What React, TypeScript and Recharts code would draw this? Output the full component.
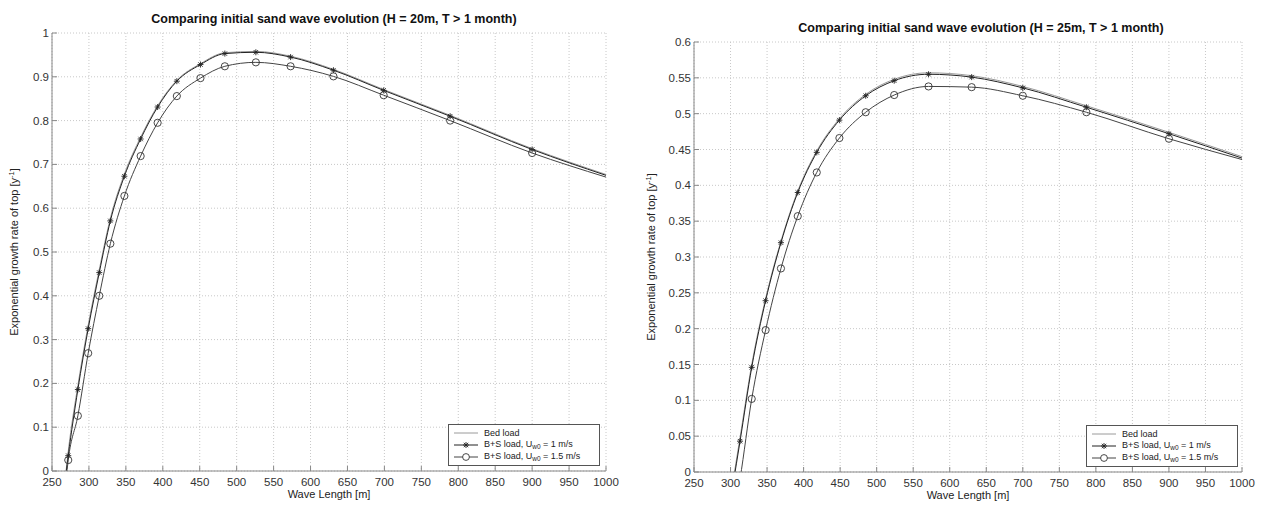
import { LineChart, Line, XAxis, YAxis, CartesianGrid, Legend } from "recharts"

// H = 20m
const lengths20 = [269, 272, 285, 299, 314, 329, 348, 370, 393, 419, 451, 484, 526, 573, 631, 699, 789, 900, 1000]
const bedLoad20 = [0.0, 0.045, 0.195, 0.333, 0.46, 0.577, 0.678, 0.762, 0.834, 0.892, 0.93, 0.955, 0.958, 0.947, 0.917, 0.871, 0.812, 0.736, 0.677]
const bs1_20 = [-0.005, 0.035, 0.186, 0.325, 0.453, 0.571, 0.673, 0.758, 0.831, 0.89, 0.928, 0.953, 0.956, 0.945, 0.915, 0.869, 0.81, 0.734, 0.675]
const bs15_20 = [-0.02, 0.025, 0.126, 0.269, 0.4, 0.519, 0.628, 0.719, 0.795, 0.856, 0.897, 0.924, 0.933, 0.924, 0.901, 0.858, 0.8, 0.726, 0.671]

// H = 25m
const lengths25 = [303, 313, 329, 348, 369, 392, 418, 449, 485, 524, 571, 630, 700, 787, 900, 1000]
const bedLoad25 = [-0.015, 0.048, 0.15, 0.242, 0.322, 0.392, 0.448, 0.493, 0.527, 0.548, 0.557, 0.553, 0.538, 0.511, 0.474, 0.44]
const bs1_25 = [-0.02, 0.043, 0.146, 0.239, 0.32, 0.39, 0.446, 0.491, 0.525, 0.546, 0.555, 0.551, 0.536, 0.509, 0.472, 0.438]
const bs15_25 = [-0.07, -0.01, 0.102, 0.198, 0.284, 0.357, 0.418, 0.466, 0.502, 0.526, 0.538, 0.537, 0.525, 0.502, 0.465, 0.436]

const xTicks = [250, 300, 350, 400, 450, 500, 550, 600, 650, 700, 750, 800, 850, 900, 950, 1000]
const yTicks20 = [0, 0.1, 0.2, 0.3, 0.4, 0.5, 0.6, 0.7, 0.8, 0.9, 1]
const yTicks25 = [0, 0.05, 0.1, 0.15, 0.2, 0.25, 0.3, 0.35, 0.4, 0.45, 0.5, 0.55, 0.6]

const seriesNames = ["Bed load", "B+S load, Uw0 = 1 m/s", "B+S load, Uw0 = 1.5 m/s"]

const FONT = "'Liberation Sans', Arial, Helvetica, sans-serif"

const buildRows = (xs: number[], a: number[], b: number[], c: number[]) =>
  xs.map((x, i) => ({ x, bed: a[i], bs1: b[i], bs15: c[i] }))

const data20 = buildRows(lengths20, bedLoad20, bs1_20, bs15_20)
const data25 = buildRows(lengths25, bedLoad25, bs1_25, bs15_25)

const Star = ({ cx, cy, color }: { cx: number; cy: number; color: string }) => {
  const s = 3
  const d = 2.2
  return (
    <g stroke={color} strokeWidth={0.9}>
      <line x1={cx - s} y1={cy} x2={cx + s} y2={cy} />
      <line x1={cx} y1={cy - s} x2={cx} y2={cy + s} />
      <line x1={cx - d} y1={cy - d} x2={cx + d} y2={cy + d} />
      <line x1={cx - d} y1={cy + d} x2={cx + d} y2={cy - d} />
    </g>
  )
}

const makeDot = (kind: "star" | "circle", count: number) => (props: any) => {
  const { cx, cy, value, index } = props
  const key = `${kind}-${index}`
  if (cx == null || cy == null || value == null || value < 0 || index === count - 1) return <g key={key} />
  if (kind === "star") return <g key={key}><Star cx={cx} cy={cy} color="#222" /></g>
  return <circle key={key} cx={cx} cy={cy} r={3.6} fill="none" stroke="#333" strokeWidth={0.9} />
}

const renderName = (name: string) => {
  const parts = name.split("w0")
  if (parts.length < 2) return name
  return (
    <>
      {parts[0]}
      <sub style={{ fontSize: 6.5, verticalAlign: "-2px" }}>w0</sub>
      {parts[1]}
    </>
  )
}

const renderLegend = (props: any) => {
  const items = [...(props.payload || [])].sort(
    (a: any, b: any) => seriesNames.indexOf(a.value) - seriesNames.indexOf(b.value)
  )
  return (
    <div
      style={{
        border: "1px solid #555",
        background: "#fff",
        padding: "2px 4px",
        fontFamily: FONT,
        fontSize: 9,
        color: "#222",
        width: 152,
        boxSizing: "border-box",
      }}
    >
      {items.map((entry: any) => (
        <div key={entry.dataKey} style={{ display: "flex", alignItems: "center", height: 12, whiteSpace: "nowrap" }}>
          <svg width={26} height={12}>
            <line x1={1} y1={6} x2={25} y2={6} stroke={entry.color} strokeWidth={1} />
            {entry.dataKey === "bs1" && <Star cx={13} cy={6} color="#222" />}
            {entry.dataKey === "bs15" && <circle cx={13} cy={6} r={3.4} fill="#fff" stroke="#333" strokeWidth={0.9} />}
          </svg>
          <span style={{ marginLeft: 5, lineHeight: "12px" }}>{renderName(entry.value)}</span>
        </div>
      ))}
    </div>
  )
}

const yLabel = (x: number, y: number) => () => (
  <text x={x} y={y} transform={`rotate(-90 ${x} ${y})`} textAnchor="middle" fontSize={11} fill="#222" fontFamily={FONT}>
    Exponential growth rate of top [y
    <tspan dy={-4} fontSize={7.5}>-1</tspan>
    <tspan dy={4}>]</tspan>
  </text>
)

const fmt = (v: number) => String(Number(v.toFixed(2)))

interface PanelProps {
  data: { x: number; bed: number; bs1: number; bs15: number }[]
  width: number
  margin: { top: number; right: number; bottom: number; left: number }
  yMax: number
  yTicks: number[]
  labelX: number
  labelY: number
  legendLeft: number
  legendTop: number
}

const Panel = ({ data, width, margin, yMax, yTicks, labelX, labelY, legendLeft, legendTop }: PanelProps) => (
  <LineChart width={width} height={506} data={data} margin={margin}>
    <CartesianGrid stroke="#c8c8c8" strokeDasharray="1 2" />
    <XAxis
      type="number"
      dataKey="x"
      domain={[250, 1000]}
      ticks={xTicks}
      interval={0}
      height={17}
      tickSize={-5}
      tickMargin={12}
      axisLine={{ stroke: "#888" }}
      tickLine={{ stroke: "#888" }}
      tick={{ fontSize: 11.5, fill: "#333", fontFamily: FONT }}
      label={{ value: "Wave Length [m]", position: "bottom", offset: 2, fontSize: 11, fill: "#222", fontFamily: FONT }}
    />
    <YAxis
      type="number"
      domain={[0, yMax]}
      ticks={yTicks}
      interval={0}
      allowDataOverflow
      width={40}
      tickSize={-5}
      tickMargin={8}
      tickFormatter={fmt}
      axisLine={{ stroke: "#888" }}
      tickLine={{ stroke: "#888" }}
      tick={{ fontSize: 11.5, fill: "#333", fontFamily: FONT }}
      label={{ content: yLabel(labelX, labelY) }}
    />
    <Legend
      layout="horizontal"
      align="center"
      verticalAlign="middle"
      itemSorter={(item: any) => seriesNames.indexOf(item.value)}
      content={renderLegend}
      wrapperStyle={{ left: legendLeft, top: legendTop, width: 152 }}
    />
    <Line type="monotone" dataKey="bed" name={seriesNames[0]} stroke="#9a9a9a" strokeWidth={1} dot={false} isAnimationActive={false} />
    <Line type="monotone" dataKey="bs1" name={seriesNames[1]} stroke="#222" strokeWidth={1} dot={makeDot("star", data.length)} isAnimationActive={false} />
    <Line type="monotone" dataKey="bs15" name={seriesNames[2]} stroke="#444" strokeWidth={1} dot={makeDot("circle", data.length)} isAnimationActive={false} />
  </LineChart>
)

const titleStyle = {
  position: "absolute" as const,
  fontFamily: FONT,
  fontWeight: "bold" as const,
  fontSize: 12.5,
  lineHeight: "14px",
  color: "#111",
  textAlign: "center" as const,
  whiteSpace: "nowrap" as const,
}

export default function App() {
  return (
    <div style={{ position: "absolute", left: 0, top: 0, width: 1262, height: 506, background: "#fff", overflow: "hidden" }}>
      <div style={{ position: "absolute", left: 0, top: 0 }}>
        <Panel
          data={data20}
          width={630}
          margin={{ top: 33, right: 24, bottom: 18, left: 12 }}
          yMax={1}
          yTicks={yTicks20}
          labelX={18}
          labelY={252}
          legendLeft={448}
          legendTop={424}
        />
      </div>
      <div style={{ ...titleStyle, left: 34, width: 600, top: 12 }}>
        Comparing initial sand wave evolution (H = 20m, T &gt; 1 month)
      </div>
      <div style={{ position: "absolute", left: 640, top: 0 }}>
        <Panel
          data={data25}
          width={622}
          margin={{ top: 42, right: 20, bottom: 17, left: 14 }}
          yMax={0.6}
          yTicks={yTicks25}
          labelX={15}
          labelY={257}
          legendLeft={446}
          legendTop={425}
        />
      </div>
      <div style={{ ...titleStyle, left: 681, width: 600, top: 21 }}>
        Comparing initial sand wave evolution (H = 25m, T &gt; 1 month)
      </div>
    </div>
  )
}
